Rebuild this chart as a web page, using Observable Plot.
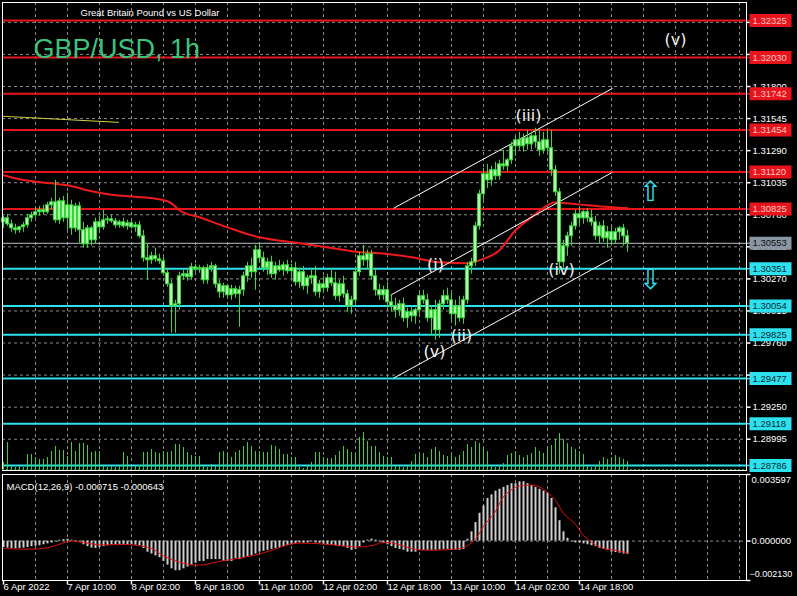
<!DOCTYPE html>
<html><head><meta charset="utf-8">
<script src="https://cdn.jsdelivr.net/npm/d3@7"></script>
<script src="https://cdn.jsdelivr.net/npm/@observablehq/plot@0.6"></script>
<style>
html,body{margin:0;padding:0;background:#000;}
#chart{position:relative;width:797px;height:596px;background:#000;overflow:hidden;}
#chart svg{position:absolute;left:0;top:0;}
</style></head><body><div id="chart"></div>
<script>
// ---- DATA (prices in points, 1 point = 0.00001) ----
const opens = [130720,130752,130704,130672,130657,130680,130696,130752,130776,130800,130816,130800,130855,130879,130736,130887,130752,130855,130672,130847,130657,130545,130672,130577,130720,130680,130736,130744,130728,130696,130720,130688,130712,130680,130696,130609,130434,130418,130450,130426,130410,130315,130227,130052,130068,130291,130307,130283,130362,130347,130355,130259,130355,130370,130227,130164,130212,130140,130188,130148,130180,130291,130370,130323,130498,130434,130355,130402,130307,130370,130339,130378,130331,130355,130243,130323,130212,130275,130291,130164,130227,130196,130275,130235,130132,130227,130148,130052,130100,130323,130450,130418,130466,130291,130180,130140,130180,130084,130052,130021,130068,129957,130005,129973,130021,130132,130100,129957,130021,129862,130068,130132,130100,129989,130052,129957,130100,130370,130402,130688,130943,131102,131054,131134,131086,131181,131165,131213,131325,131372,131325,131388,131340,131404,131356,131293,131372,131309,131134,130959,130402,130530,130609,130688,130784,130752,130800,130752,130720,130609,130688,130593,130641,130577,130641,130672,130609];
const highs = [130768,130784,130736,130704,130688,130720,130784,130800,130832,130847,130855,130879,130911,131054,130911,130927,130951,130895,130871,130879,130720,130696,130688,130752,130768,130816,130768,130776,130752,130736,130752,130736,130736,130720,130728,130657,130553,130482,130514,130466,130442,130355,130259,130100,130323,130339,130339,130394,130386,130378,130370,130386,130402,130386,130259,130235,130227,130219,130212,130212,130323,130402,130434,130537,130553,130482,130434,130450,130402,130418,130402,130418,130386,130402,130355,130370,130299,130355,130370,130259,130291,130307,130355,130323,130259,130291,130180,130132,130355,130482,130537,130498,130498,130355,130227,130212,130243,130148,130116,130100,130116,130037,130052,130037,130164,130180,130148,130052,130100,130100,130180,130196,130164,130100,130132,130132,130402,130434,130720,130975,131150,131181,131165,131197,131213,131293,131229,131356,131404,131436,131420,131452,131436,131468,131452,131436,131452,131452,131173,130990,130577,130641,130720,130816,130832,130816,130832,130816,130768,130720,130736,130688,130688,130672,130688,130704,130657];
const lows = [130672,130688,130641,130625,130633,130641,130672,130720,130752,130768,130776,130784,130823,130712,130704,130720,130657,130617,130641,130553,130514,130514,130530,130545,130641,130657,130704,130712,130672,130672,130672,130657,130665,130641,130593,130402,130259,130386,130402,130386,130291,130203,129838,129838,130021,130259,130251,130259,130323,130315,130227,130227,130323,130196,130116,130116,130116,130100,130116,129885,130132,130243,130275,130180,130402,130323,130299,130275,130259,130323,130291,130307,130275,130212,130196,130180,130148,130227,130132,130116,130164,130164,130212,130100,130084,130116,130005,129989,130068,130291,130370,130339,130259,130132,130100,130100,130037,130005,129957,129973,129925,129878,129925,129909,129989,130068,129925,129814,129782,129798,130021,130068,129941,129894,129925,129909,130068,130307,130370,130657,130895,130990,131006,131054,131054,131134,131118,131181,131245,131293,131277,131293,131293,131309,131245,131261,131277,131086,130927,130307,130355,130450,130530,130657,130704,130704,130720,130688,130577,130545,130561,130514,130530,130545,130577,130530,130482];
const closes = [130752,130704,130672,130657,130680,130696,130752,130776,130800,130816,130800,130855,130879,130736,130887,130752,130855,130672,130847,130657,130545,130672,130577,130720,130680,130736,130744,130728,130696,130720,130688,130712,130680,130696,130609,130434,130418,130450,130426,130410,130315,130227,130052,130068,130291,130307,130283,130362,130347,130355,130259,130355,130370,130227,130164,130212,130140,130188,130148,130180,130291,130370,130323,130498,130434,130355,130402,130307,130370,130339,130378,130331,130355,130243,130323,130212,130275,130291,130164,130227,130196,130275,130235,130132,130227,130148,130052,130100,130323,130450,130418,130466,130291,130180,130140,130180,130084,130052,130021,130068,129957,130005,129973,130021,130132,130100,129957,130021,129862,130068,130132,130100,129989,130052,129957,130100,130370,130402,130688,130943,131102,131054,131134,131086,131181,131165,131213,131325,131372,131325,131388,131340,131404,131356,131293,131372,131309,131134,130959,130402,130530,130609,130688,130784,130752,130800,130752,130720,130609,130688,130593,130641,130577,130641,130672,130609,130553];
const volumes = [700,2700,300,200,300,200,1500,1500,1200,1000,1000,1200,1800,2300,1900,1900,1300,2700,1800,2600,2600,2400,1700,1800,1800,300,200,300,200,300,1700,1300,300,300,400,1700,1700,2000,1700,1600,1800,1700,1800,2500,2500,2200,1700,1400,1300,1300,300,200,500,300,1700,1800,1700,1200,1700,1900,2300,2700,2300,1800,1800,1700,1700,2400,2300,2000,1500,1500,1200,1200,200,100,300,700,1700,1700,1200,1100,1100,1400,1800,2300,2000,1700,1500,3200,3700,2800,2300,2300,1700,1300,1200,1200,300,300,200,300,800,1500,1400,1600,1200,2000,2200,1800,1400,1300,1500,1200,1400,1800,2500,2200,2800,2600,2200,1800,300,200,300,600,1400,1600,1800,1400,1200,1400,1600,2200,1800,1600,2000,2400,3000,3600,3000,2600,2200,2000,1800,1500,300,200,400,800,1200,1000,1200,1400,1200,1000,800];
const macdHist = [-0.00035,-0.00038,-0.0004,-0.00042,-0.0004,-0.00038,-0.00035,-0.0003,-0.00028,-0.00025,-0.0002,-0.00015,-0.0001,-0.00005,0.00005,0.00008,0.0001,0.00005,0.00003,-0.00005,-0.0002,-0.0003,-0.00038,-0.0004,-0.00035,-0.0003,-0.00025,-0.0002,-0.0002,-0.00018,-0.00018,-0.0002,-0.0002,-0.00022,-0.00025,-0.0004,-0.0006,-0.0007,-0.0008,-0.0009,-0.0011,-0.0013,-0.0015,-0.0016,-0.0016,-0.0015,-0.0014,-0.0013,-0.0012,-0.0011,-0.0011,-0.001,-0.001,-0.001,-0.001,-0.0011,-0.0011,-0.0011,-0.00095,-0.001,-0.0009,-0.00085,-0.0008,-0.0007,-0.0006,-0.00055,-0.0005,-0.00045,-0.0004,-0.00035,-0.0003,-0.00025,-0.0002,-0.00015,-0.0001,-0.00012,-0.0001,-0.00005,-0.0001,-0.00012,-0.00018,-0.0002,-0.00022,-0.00025,-0.0003,-0.00032,-0.0004,-0.0005,-0.00045,-0.0003,-0.0001,0.00005,0.0001,0.00005,-0.00005,-0.0001,-0.0002,-0.0003,-0.0004,-0.00045,-0.0005,-0.0006,-0.0006,-0.0006,-0.0005,-0.0005,-0.0005,-0.0005,-0.0005,-0.00048,-0.00045,-0.00045,-0.0005,-0.0005,-0.0005,-0.00045,0.0001,0.0005,0.001,0.0015,0.0019,0.0023,0.0025,0.0027,0.0028,0.0029,0.003,0.0031,0.0031,0.0032,0.0032,0.0031,0.003,0.0029,0.0028,0.0027,0.0026,0.0023,0.0018,0.0011,0.0005,0.00015,-0.00005,-0.0001,-0.0001,-0.00015,-0.0002,-0.00025,-0.0003,-0.0004,-0.00045,-0.0005,-0.0006,-0.00062,-0.00065,-0.0007,-0.000715];
const signalBars = [0,10,17,19,24,32,37,40,45,49,54,62,67,72,77,82,87,89,93,94,97,99,103,112,115,118,120,123,125,128,130,133,135,138,140,143,145,148,150,153,156];
const signalValues = [-0.0004,-0.0004,0,-0.00005,-0.0002,-0.0002,-0.0004,-0.0008,-0.0012,-0.0013,-0.0011,-0.0008,-0.0005,-0.00015,-0.00012,-0.0002,-0.0003,-0.00032,-0.0002,-0.0001,-0.0001,-0.0002,-0.00045,-0.00045,-0.00035,0.0001,0.0008,0.0016,0.0024,0.0029,0.003,0.003,0.0028,0.0022,0.0015,0.0009,0.0003,-0.0002,-0.0004,-0.0005,-0.000643];
const maBars = [0,4,12,16,22,28,35,39,42,44,49,56,62,64,74,84,89,94,102,109,116,119,124,128,132,136,138,141,146,152,156];
const maPoints = [131094,131062,131030,131014,130967,130935,130919,130903,130871,130816,130760,130680,130617,130601,130553,130506,130482,130474,130442,130402,130394,130418,130498,130657,130760,130855,130879,130871,130855,130839,130831];
const redLevels = [1.32325,1.32030,1.31742,1.31454,1.31120,1.30825];
const cyanLevels = [1.30351,1.30054,1.29825,1.29477,1.29118,1.28786];
const currentPrice = 1.30553;
const priceTicks = [1.28995,1.29250,1.29505,1.29760,1.30015,1.30270,1.30525,1.30780,1.31035,1.31290,1.31545,1.31800,1.32055,1.32310];
const timeTickBars = [0,16,32,48,64,80,96,112,128,144];
const timeTickLabels = ["6 Apr 2022","7 Apr 10:00","8 Apr 02:00","8 Apr 18:00","11 Apr 10:00","12 Apr 02:00","12 Apr 18:00","13 Apr 10:00","14 Apr 02:00","14 Apr 18:00"];
const channelLines = [
  {b1:97.5,p1:1.30831,b2:152.25,p2:1.31785},
  {b1:96.75,p1:1.30140,b2:152.25,p2:1.31118},
  {b1:97.5,p1:1.29480,b2:152.25,p2:1.30434}
];
const yellowLine = [{b:0,p:1.31563},{b:28.75,p:1.31515}];
const waveLabels = [
  {b:108,p:1.30378,t:"(i)"},{b:114.5,p:1.29814,t:"(ii)"},{b:131.25,p:1.31563,t:"(iii)"},
  {b:139.5,p:1.30339,t:"(iv)"},{b:107.75,p:1.29687,t:"(v)"},{b:168,p:1.32167,t:"(v)"}
];
const arrowMarks = [{b:161.75,p:1.30959,t:"⇧"},{b:161.75,p:1.30259,t:"⇩"}];
const macdMax = 0.003597, macdMin = -0.002130;

// ---- BUILD ----
const candles = opens.map((o,i)=>({i, o:o/1e5, h:highs[i]/1e5, l:lows[i]/1e5, c:closes[i]/1e5}));
const vols = volumes.map((v,i)=>({i,v}));
const hist = macdHist.map((v,i)=>({i,v}));
const signal = signalBars.map((b,k)=>({b, v:signalValues[k]}));
const ma = maBars.map((b,k)=>({b, p:maPoints[k]/1e5}));
const levels = [
  ...redLevels.map(p=>({p, bg:"#e8141c", fg:"#ffc4c4"})),
  ...cyanLevels.map(p=>({p, bg:"#2de1ee", fg:"#0b2a33"})),
  {p:currentPrice, bg:"#8a96a3", fg:"#111"}
];
const timeTicks = timeTickBars.map((b,k)=>({b, t:timeTickLabels[k]}));
// tick labels fully hidden under a level label are not drawn
const shownTicks = priceTicks.filter(t => !levels.some(l => Math.abs(l.p - t) < 0.00020));

const W=797, H=596;
const FONT = "'Liberation Sans', Arial, sans-serif";
const RED="#e8141c", CYAN="#2de1ee", GRID="#8a8a8a", GREEN="#3ad83a";
const gridBars = d3.range(8, 186, 8);
const labelBox = {draw(ctx){ctx.moveTo(-21,-6.5);ctx.lineTo(21,-6.5);ctx.lineTo(21,6.5);ctx.lineTo(-21,6.5);ctx.closePath();}};
const hTick = {draw(ctx){ctx.moveTo(0,0);ctx.lineTo(4,0);}};
const vTick = {draw(ctx){ctx.moveTo(0,0);ctx.lineTo(0,4);}};
const fmt5 = d3.format(".5f");
const fmt6 = d3.format(".6f");

function base(extra){
  return Object.assign({
    width:W, height:H, marginLeft:2, marginRight:51,
    x:{domain:[-0.25,185.75], axis:null},
    style:{background:"transparent", color:"#fff", fontFamily:FONT, fontSize:"9.5px", overflow:"visible"}
  }, extra);
}

const main = Plot.plot(base({
  marginTop:2, marginBottom:126,
  y:{domain:[1.287462,1.324681], axis:null},
  marks:[
    Plot.ruleX(gridBars, {x:d=>d, stroke:GRID, strokeDasharray:"3,3"}),
    Plot.ruleY(priceTicks, {y:d=>d, stroke:GRID, strokeDasharray:"3,3"}),
    Plot.line(yellowLine, {x:"b", y:"p", stroke:"#cfcf3a", strokeWidth:1}),
    Plot.ruleY(redLevels, {y:d=>d, stroke:RED, strokeWidth:2}),
    Plot.ruleY(cyanLevels, {y:d=>d, stroke:CYAN, strokeWidth:2}),
    Plot.ruleY([currentPrice], {y:d=>d, stroke:"#b8bec6", strokeWidth:1}),
    Plot.line(ma, {x:"b", y:"p", stroke:"#f01a1a", strokeWidth:2, curve:"monotone-x"}),
    Plot.link(channelLines, {x1:"b1", y1:"p1", x2:"b2", y2:"p2", stroke:"#fff", strokeWidth:1}),
    Plot.ruleX(candles, {x:"i", y1:"l", y2:"h", stroke:GREEN, strokeWidth:1}),
    Plot.rect(candles, {x1:d=>d.i-0.375, x2:d=>d.i+0.375, y1:d=>Math.min(d.o,d.c), y2:d=>Math.max(d.o,d.c), fill:"#aef5ae", stroke:"#33d633", strokeWidth:1}),
    Plot.text(waveLabels, {x:"b", y:"p", text:"t", fill:"#f2f2f2", fontSize:16, fontFamily:"'DejaVu Sans', sans-serif"}),
    Plot.text(arrowMarks, {x:"b", y:"p", text:"t", fill:CYAN, fontSize:28, fontFamily:"'DejaVu Sans', sans-serif"}),
    Plot.text(["Great Britain Pound vs US Dollar"], {frameAnchor:"top-left", dx:78, dy:7, textAnchor:"start", fill:"#fff", fontSize:9.5}),
    Plot.text(["GBP/USD, 1h"], {frameAnchor:"top-left", dx:31, dy:36, textAnchor:"start", fill:"#3cc47c", fontSize:27}),
    Plot.dot(priceTicks, {y:d=>d, frameAnchor:"right", symbol:hTick, stroke:"#fff", fill:"none"}),
    Plot.text(shownTicks, {y:d=>d, text:d=>fmt5(d), frameAnchor:"right", dx:6, textAnchor:"start", fill:"#fff"}),
    Plot.dot(levels, {y:"p", frameAnchor:"right", dx:24, symbol:labelBox, fill:"bg", stroke:null}),
    Plot.dot(levels, {y:"p", frameAnchor:"right", symbol:hTick, stroke:"bg", fill:"none"}),
    Plot.text(levels, {y:"p", text:d=>fmt5(d.p), frameAnchor:"right", dx:6, textAnchor:"start", fill:"fg"}),
    Plot.frame({stroke:"#fff"})
  ]
}));

const vol = Plot.plot(base({
  marginTop:429, marginBottom:127,
  y:{domain:[0,4000], axis:null},
  marks:[
    Plot.ruleX(vols, {x:"i", y1:0, y2:"v", stroke:"#36d436", strokeWidth:1}),
    Plot.ruleY([0], {y:d=>d, stroke:"#2a9a2a", strokeDasharray:"2,2"})
  ]
}));

const macd = Plot.plot(base({
  marginTop:474, marginBottom:16,
  y:{domain:[macdMin, macdMax], axis:null},
  marks:[
    Plot.ruleX(gridBars, {x:d=>d, stroke:GRID, strokeDasharray:"3,3"}),
    Plot.ruleY([0], {y:d=>d, stroke:GRID, strokeDasharray:"3,3"}),
    Plot.ruleX(hist, {x:"i", y1:0, y2:"v", stroke:"#cfcfcf", strokeWidth:2}),
    Plot.line(signal, {x:"b", y:"v", stroke:"#e01010", strokeWidth:1, curve:"catmull-rom"}),
    Plot.text(["MACD(12,26,9) -0.000715 -0.000643"], {frameAnchor:"top-left", dx:4, dy:9, textAnchor:"start", fill:"#fff"}),
    Plot.dot([macdMax, 0, macdMin], {y:d=>d, frameAnchor:"right", symbol:hTick, stroke:"#fff", fill:"none"}),
    Plot.text([macdMax], {y:d=>d, text:d=>fmt6(d), frameAnchor:"right", dx:5, dy:5, textAnchor:"start", fill:"#fff"}),
    Plot.text([0], {y:d=>d, text:d=>fmt6(d), frameAnchor:"right", dx:5, textAnchor:"start", fill:"#fff"}),
    Plot.text([macdMin], {y:d=>d, text:d=>fmt6(d), frameAnchor:"right", dx:3, dy:-6, textAnchor:"start", fill:"#fff", fontSize:9}),
    Plot.dot(timeTicks, {x:"b", frameAnchor:"bottom", symbol:vTick, stroke:"#fff", fill:"none"}),
    Plot.text(timeTicks, {x:"b", text:"t", frameAnchor:"bottom", dy:9, textAnchor:"start", fill:"#fff"}),
    Plot.frame({stroke:"#fff"})
  ]
}));

const root = document.getElementById("chart");
[main, vol, macd].forEach(s => root.appendChild(s));
</script></body></html>
